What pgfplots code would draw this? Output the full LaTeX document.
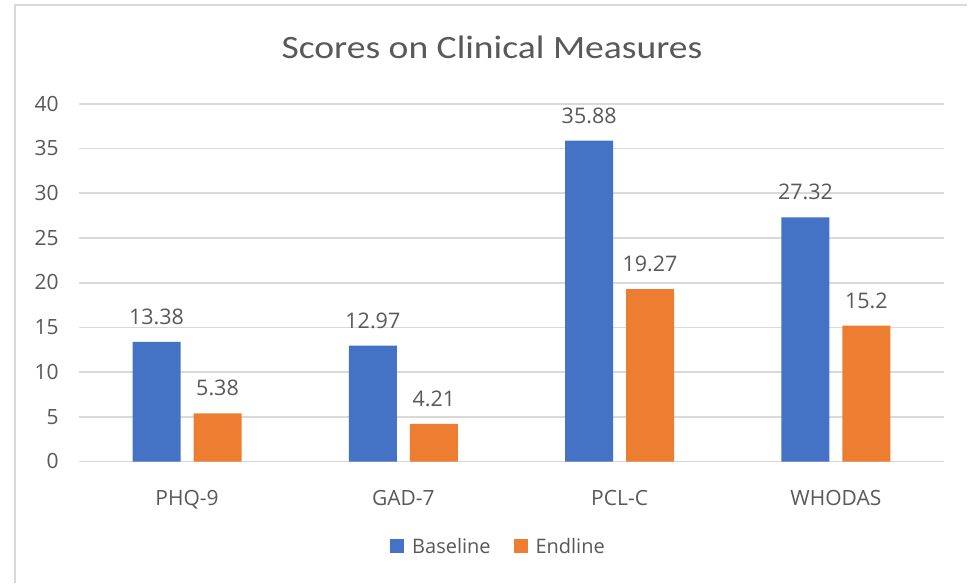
\documentclass[border=0pt]{standalone}
\usepackage{fontspec}
\setmainfont{Open Sans}
\newfontfamily\titlefont{Carlito}
\usepackage{graphicx}
\usepackage{pgfplots}
\pgfplotsset{compat=1.18}
\definecolor{txtgray}{HTML}{595959}
\definecolor{gridgray}{HTML}{D9D9D9}
\definecolor{barblue}{HTML}{4472C4}
\definecolor{barorange}{HTML}{ED7D31}

\begin{document}
\begin{tikzpicture}
% canvas and frame
\fill[white] (0,0) rectangle (968pt,584pt);
\draw[gridgray, line width=2pt] (15pt,0pt) -- (15pt,579pt) -- (968pt,579pt);
% title
\node[anchor=base, text=txtgray, inner sep=0pt] at (492.5pt,525.5pt)
  {\scalebox{1.154}[1]{\titlefont\fontsize{32.6}{32.6}\selectfont Scores on Clinical Measures}};
\begin{axis}[
  at={(79pt,122pt)}, anchor=south west,
  scale only axis, width=866pt, height=358pt,
  xmin=-0.5, xmax=3.5, ymin=0, ymax=40,
  ytick={0,5,...,40},
  xtick=data, xticklabels={PHQ-9,GAD-7,PCL-C,WHODAS},
  axis line style={draw=none},
  tick style={draw=none},
  ymajorgrids, grid style={gridgray, line width=1.6pt},
  ybar=13pt, bar width=48pt,
  /pgf/number format/assume math mode=true,
  ticklabel style={text=txtgray, font=\fontsize{21}{21}\selectfont, inner sep=0pt},
  yticklabel style={anchor=base east, xshift=-20pt, yshift=-7.3pt},
  xticklabel style={anchor=base, yshift=-39.5pt},
  nodes near coords,
  every node near coord/.append style={anchor=base, yshift=17.5pt, inner sep=0pt,
    text=txtgray, font=\fontsize{21.5}{21.5}\selectfont},
  legend style={at={(0.485,-0.237)}, anchor=center, draw=none, fill=none,
    legend columns=2, font=\fontsize{20}{20}\selectfont, text=txtgray,
    /tikz/every odd column/.append style={column sep=6pt},
    /tikz/every even column/.append style={column sep=21pt}},
  legend image code/.code={\fill[#1] (0pt,-7pt) rectangle (14pt,7pt);},
]
\addplot[fill=barblue, draw=none] coordinates {(0,13.38) (1,12.97) (2,35.88) (3,27.32)};
\addplot[fill=barorange, draw=none] coordinates {(0,5.38) (1,4.21) (2,19.27) (3,15.2)};
\legend{Baseline, Endline}
\end{axis}
\end{tikzpicture}
\end{document}
